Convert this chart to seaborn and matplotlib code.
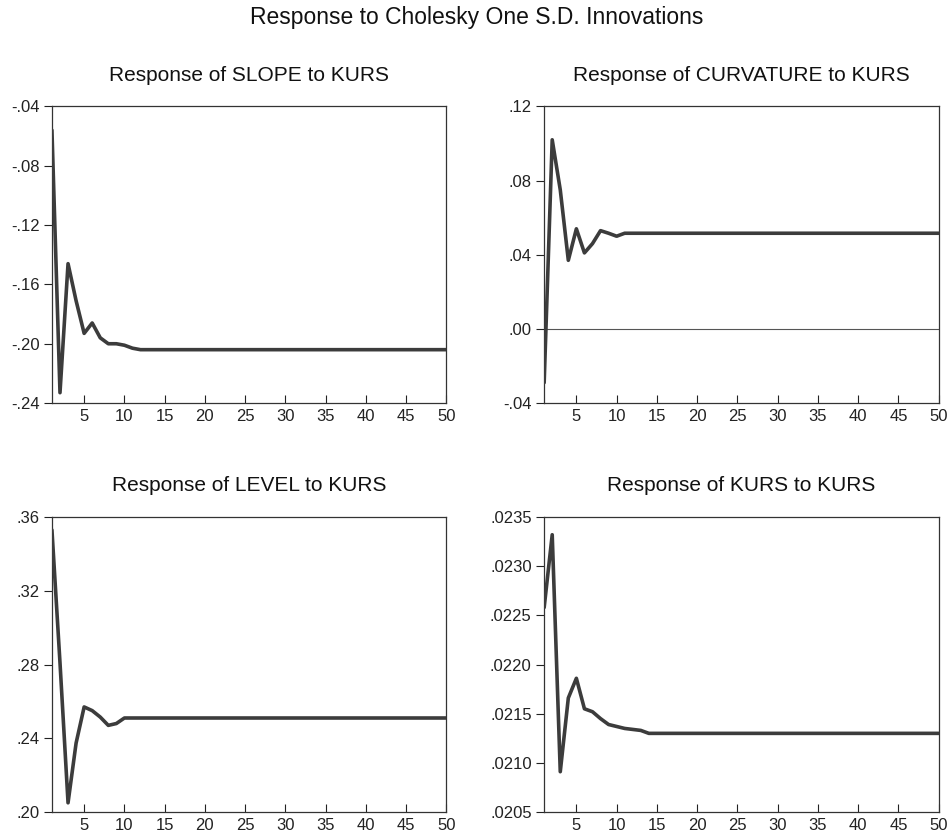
import numpy as np
import pandas as pd
import matplotlib
matplotlib.use("Agg")
import matplotlib.pyplot as plt
import seaborn as sns

periods = list(range(1, 51))

slope = [-0.056, -0.233, -0.146, -0.171, -0.193, -0.186, -0.196, -0.200, -0.200, -0.201,
         -0.203, -0.204, -0.204, -0.204, -0.204, -0.204, -0.204, -0.204, -0.204, -0.204,
         -0.204, -0.204, -0.204, -0.204, -0.204, -0.204, -0.204, -0.204, -0.204, -0.204,
         -0.204, -0.204, -0.204, -0.204, -0.204, -0.204, -0.204, -0.204, -0.204, -0.204,
         -0.204, -0.204, -0.204, -0.204, -0.204, -0.204, -0.204, -0.204, -0.204, -0.204]

curvature = [-0.029, 0.102, 0.075, 0.037, 0.054, 0.041, 0.046, 0.053, 0.0516, 0.050,
             0.0516, 0.0516, 0.0516, 0.0516, 0.0516, 0.0516, 0.0516, 0.0516, 0.0516, 0.0516,
             0.0516, 0.0516, 0.0516, 0.0516, 0.0516, 0.0516, 0.0516, 0.0516, 0.0516, 0.0516,
             0.0516, 0.0516, 0.0516, 0.0516, 0.0516, 0.0516, 0.0516, 0.0516, 0.0516, 0.0516,
             0.0516, 0.0516, 0.0516, 0.0516, 0.0516, 0.0516, 0.0516, 0.0516, 0.0516, 0.0516]

level = [0.353, 0.281, 0.205, 0.2374, 0.257, 0.255, 0.2515, 0.247, 0.248, 0.251,
         0.251, 0.251, 0.251, 0.251, 0.251, 0.251, 0.251, 0.251, 0.251, 0.251,
         0.251, 0.251, 0.251, 0.251, 0.251, 0.251, 0.251, 0.251, 0.251, 0.251,
         0.251, 0.251, 0.251, 0.251, 0.251, 0.251, 0.251, 0.251, 0.251, 0.251,
         0.251, 0.251, 0.251, 0.251, 0.251, 0.251, 0.251, 0.251, 0.251, 0.251]

kurs = [0.02258, 0.02332, 0.02091, 0.02166, 0.02186, 0.02155, 0.02152, 0.02145, 0.02139, 0.02137,
        0.02135, 0.02134, 0.02133, 0.02130, 0.02130, 0.02130, 0.02130, 0.02130, 0.02130, 0.02130,
        0.02130, 0.02130, 0.02130, 0.02130, 0.02130, 0.02130, 0.02130, 0.02130, 0.02130, 0.02130,
        0.02130, 0.02130, 0.02130, 0.02130, 0.02130, 0.02130, 0.02130, 0.02130, 0.02130, 0.02130,
        0.02130, 0.02130, 0.02130, 0.02130, 0.02130, 0.02130, 0.02130, 0.02130, 0.02130, 0.02130]

titles = ["Response of SLOPE to KURS", "Response of CURVATURE to KURS",
          "Response of LEVEL to KURS", "Response of KURS to KURS"]
main_title = "Response to Cholesky One S.D. Innovations"

y_ticks = [
    [-0.24, -0.20, -0.16, -0.12, -0.08, -0.04],
    [-0.04, 0.00, 0.04, 0.08, 0.12],
    [0.20, 0.24, 0.28, 0.32, 0.36],
    [0.0205, 0.0210, 0.0215, 0.0220, 0.0225, 0.0230, 0.0235],
]
y_labels = [
    ["-.24", "-.20", "-.16", "-.12", "-.08", "-.04"],
    ["-.04", ".00", ".04", ".08", ".12"],
    [".20", ".24", ".28", ".32", ".36"],
    [".0205", ".0210", ".0215", ".0220", ".0225", ".0230", ".0235"],
]
x_ticks = [5, 10, 15, 20, 25, 30, 35, 40, 45, 50]
x_labels = ["5", "10", "15", "20", "25", "30", "35", "40", "45", "50"]

sns.set_style("white")
plt.rcParams["font.family"] = ["Liberation Sans", "DejaVu Sans"]

fig = plt.figure(figsize=(9.53, 8.38), dpi=100)
positions = [
    [0.0545, 0.519, 0.414, 0.354],
    [0.571, 0.519, 0.414, 0.354],
    [0.0545, 0.031, 0.414, 0.352],
    [0.571, 0.031, 0.414, 0.352],
]
series = [slope, curvature, level, kurs]
line_color = "#3c3c3c"

for i in range(4):
    ax = fig.add_axes(positions[i])
    df = pd.DataFrame({"period": periods, "value": series[i]})
    if i == 1:
        ax.axhline(0, color="#555555", lw=0.8, zorder=1)
    sns.lineplot(data=df, x="period", y="value", ax=ax, color=line_color,
                 lw=2.6, zorder=3)
    ax.set_xlim(1, 50)
    yt = y_ticks[i]
    ax.set_ylim(yt[0], yt[-1])
    ax.set_yticks(yt)
    ax.set_yticklabels(y_labels[i])
    ax.set_xticks(x_ticks)
    ax.set_xticklabels(x_labels)
    ax.set_xlabel("")
    ax.set_ylabel("")
    ax.tick_params(axis="y", direction="out", length=6, width=0.8, colors="#222222",
                   labelsize=12, pad=3, left=True)
    ax.tick_params(axis="x", direction="in", length=6, width=0.8, colors="#222222",
                   labelsize=12, pad=4, bottom=True)
    for s in ax.spines.values():
        s.set_color("#333333")
        s.set_linewidth(0.9)
    ax.set_title(titles[i], fontsize=15, pad=19 if i >= 2 else 18, color="#111111")

fig.suptitle(main_title, fontsize=16.5, y=0.993, va="top", color="#111111")
fig.savefig("out.png", dpi=100, facecolor="white")
